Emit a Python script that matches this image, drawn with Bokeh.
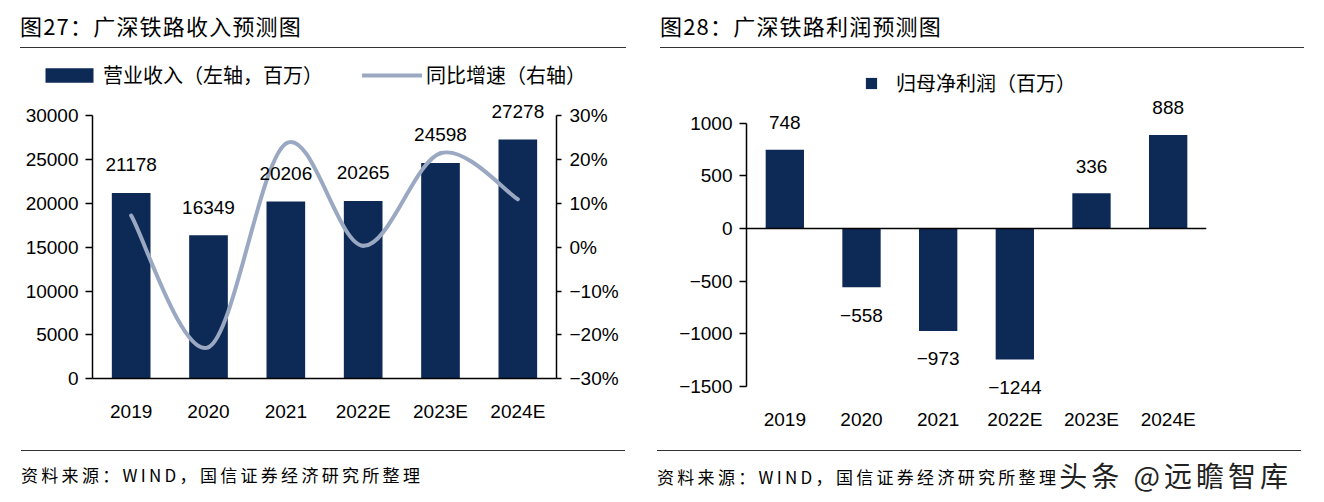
from bokeh.plotting import figure
from bokeh.models import (FactorRange, Range1d, LinearAxis, FixedTicker, Legend,
                          LegendItem, Span, Div, ColumnDataSource)
from bokeh.layouts import row, column
from bokeh.embed import file_html
from bokeh.resources import INLINE
from bokeh.core.properties import value

# ---------------- data ----------------
years = ["2019", "2020", "2021", "2022E", "2023E", "2024E"]
revenue = [21178, 16349, 20206, 20265, 24598, 27278]
growth = [7.2, -22.8, 23.6, 0.3, 21.4, 10.9]
profit = [748, -558, -973, -1244, 336, 888]
rev_ticks = [0, 5000, 10000, 15000, 20000, 25000, 30000]
pct_ticks = [-30, -20, -10, 0, 10, 20, 30]
profit_ticks = [-1500, -1000, -500, 0, 500, 1000]

title1 = "图27：广深铁路收入预测图"
title2 = "图28：广深铁路利润预测图"
legend_rev = "营业收入（左轴，百万）"
legend_growth = "同比增速（右轴）"
legend_profit = "归母净利润（百万）"
source_text = "资料来源：WIND，国信证券经济研究所整理"
watermark = "头条 @远瞻智库"

NAVY = "#0d2a57"
LINE = "#9aa8c2"
NUM_FONT = "Liberation Sans"
CJK = "Noto Sans CJK SC"


def minus(s):
    return s.replace("-", "\u2212")


def style_axis(ax, tick_out=7, standoff=7):
    ax.axis_line_color = "black"
    ax.axis_line_width = 1.5
    ax.major_tick_line_color = "black"
    ax.major_tick_line_width = 1.5
    ax.major_tick_out = tick_out
    ax.major_tick_in = 0
    ax.minor_tick_line_color = None
    ax.major_label_text_font = NUM_FONT
    ax.major_label_text_font_size = "19px"
    ax.major_label_text_color = "black"
    ax.major_label_standoff = standoff


def style_xaxis(ax, show_line=True, standoff=16):
    ax.axis_line_color = "black" if show_line else None
    ax.axis_line_width = 1.5
    ax.major_tick_line_color = None
    ax.minor_tick_line_color = None
    ax.major_label_text_font = NUM_FONT
    ax.major_label_text_font_size = "19px"
    ax.major_label_text_color = "black"
    ax.major_label_standoff = standoff


n = len(years)
xs = [i + 0.5 for i in range(n)]          # category centres

# ---------------- chart 1: revenue + growth ----------------
# The plot area reaches beyond the axes (which are pinned with fixed_location
# and bounded to their ticks) so that the legend, value labels and tick
# labels all lie inside it.
cat_px = 464.0 / n
x_start = -77.0 / cat_px
x_end = n + 69.0 / cat_px
k_rev = (rev_ticks[-1] - rev_ticks[0]) / 263.3
k_pct = (pct_ticks[-1] - pct_ticks[0]) / 263.3
below_px, above_px = 41.7, 60.0
rev_start = rev_ticks[0] - below_px * k_rev
rev_end = rev_ticks[-1] + above_px * k_rev
pct_start = pct_ticks[0] - below_px * k_pct
pct_end = pct_ticks[-1] + above_px * k_pct

p1 = figure(width=648, height=397, x_range=Range1d(x_start, x_end),
            y_range=Range1d(rev_start, rev_end),
            output_backend="svg", toolbar_location=None,
            min_border_left=15, min_border_right=23,
            min_border_top=6, min_border_bottom=26)
p1.extra_y_ranges = {"pct": Range1d(pct_start, pct_end)}
p1.outline_line_color = None
p1.grid.visible = False
p1.background_fill_color = "white"

bars1 = p1.vbar(x=xs, top=revenue, width=0.5, fill_color=NAVY, line_color=None)

# smoothed growth line (Excel-style smoothing through the data points)
seg = dict(x0=[], y0=[], x1=[], y1=[], cx0=[], cy0=[], cx1=[], cy1=[])
for i in range(n - 1):
    a = i - 1 if i > 0 else i
    b = i + 2 if i + 2 < n else i + 1
    seg["x0"].append(xs[i]); seg["y0"].append(growth[i])
    seg["x1"].append(xs[i + 1]); seg["y1"].append(growth[i + 1])
    seg["cx0"].append(xs[i] + (xs[i + 1] - xs[a]) / 6)
    seg["cy0"].append(growth[i] + (growth[i + 1] - growth[a]) / 6)
    seg["cx1"].append(xs[i + 1] - (xs[b] - xs[i]) / 6)
    seg["cy1"].append(growth[i + 1] - (growth[b] - growth[i]) / 6)
curve = p1.bezier(x0="x0", y0="y0", x1="x1", y1="y1", cx0="cx0", cy0="cy0",
                  cx1="cx1", cy1="cy1", source=ColumnDataSource(seg),
                  line_color=LINE, line_width=4, line_cap="round",
                  y_range_name="pct")

lab1 = ColumnDataSource(dict(x=xs, y=revenue, t=[str(v) for v in revenue]))
p1.text(x="x", y="y", text="t", source=lab1, text_align="center",
        text_baseline="middle", y_offset=-28, text_font=value(NUM_FONT),
        text_font_size="19px", text_color="black")

xa1 = p1.xaxis[0]
xa1.ticker = FixedTicker(ticks=xs)
xa1.major_label_overrides = {x: y for x, y in zip(xs, years)}
xa1.bounds = (0, n)
xa1.fixed_location = rev_ticks[0]
style_xaxis(xa1)

yl = p1.yaxis[0]
yl.ticker = FixedTicker(ticks=rev_ticks)
yl.bounds = (rev_ticks[0], rev_ticks[-1])
yl.fixed_location = 0
style_axis(yl, tick_out=7, standoff=7)

yr = LinearAxis(y_range_name="pct", ticker=FixedTicker(ticks=pct_ticks),
                bounds=(pct_ticks[0], pct_ticks[-1]), fixed_location=n,
                major_label_overrides={v: minus(f"{v}%") for v in pct_ticks})
style_axis(yr, tick_out=5, standoff=8)
p1.add_layout(yr, "right")

leg1 = Legend(items=[LegendItem(label=legend_rev, renderers=[bars1]),
                     LegendItem(label=legend_growth, renderers=[curve])],
              orientation="horizontal", location=(24, 331),
              glyph_width=60, glyph_height=18, label_standoff=4, spacing=39,
              padding=0, margin=0, border_line_color=None,
              background_fill_alpha=0, label_text_font=CJK,
              label_text_font_size="20px", label_text_color="black")
p1.add_layout(leg1, "center")

# ---------------- chart 2: profit ----------------
k2 = (profit_ticks[-1] - profit_ticks[0]) / 263.3     # value units per pixel
profit_start = profit_ticks[0] - 14.0 * k2
profit_end = profit_ticks[-1] + 62.7 * k2

p2 = figure(width=668, height=397, x_range=FactorRange(*years),
            y_range=Range1d(profit_start, profit_end),
            output_backend="svg", toolbar_location=None,
            min_border_left=98, min_border_right=110,
            min_border_top=11, min_border_bottom=46)
p2.outline_line_color = None
p2.grid.visible = False

bars2 = p2.vbar(x=years, top=profit, bottom=0, width=0.5, fill_color=NAVY,
                line_color=None)
p2.add_layout(Span(location=0, dimension="width", line_color="black",
                   line_width=1.5))

lab2 = ColumnDataSource(dict(x=years, y=profit,
                             t=[minus(str(v)) for v in profit],
                             off=[-27 if v >= 0 else 28 for v in profit]))
p2.text(x="x", y="y", text="t", source=lab2, text_align="center",
        text_baseline="middle", y_offset="off", text_font=value(NUM_FONT),
        text_font_size="19px", text_color="black")

style_xaxis(p2.xaxis[0], show_line=False, standoff=2)
y2 = p2.yaxis[0]
y2.ticker = FixedTicker(ticks=profit_ticks)
y2.bounds = (profit_ticks[0], profit_ticks[-1])
y2.major_label_overrides = {v: minus(str(v)) for v in profit_ticks}
style_axis(y2, tick_out=7, standoff=7)

leg2 = Legend(items=[LegendItem(label=legend_profit, renderers=[bars2])],
              orientation="horizontal", location=(118, 303),
              glyph_width=14, glyph_height=14, label_standoff=18,
              padding=0, margin=0, border_line_color=None,
              background_fill_alpha=0, label_text_font=CJK,
              label_text_font_size="20px", label_text_color="black")
p2.add_layout(leg2, "center")

# ---------------- titles / sources ----------------
TITLE_CSS = ("font-family:'Noto Sans CJK SC';font-size:22px;letter-spacing:1.2px;"
             "color:#000;line-height:32px;padding-top:9px;padding-bottom:6px;"
             "border-bottom:1.5px solid #333;white-space:nowrap;")
SRC_CSS = ("font-family:'Noto Sans CJK SC';font-size:17px;letter-spacing:3.3px;"
           "color:#000;line-height:24px;margin-top:4px;padding-top:12px;"
           "border-top:1.5px solid #333;white-space:nowrap;")
WM_CSS = ("font-family:'Noto Sans CJK SC';font-size:28px;letter-spacing:4px;"
          "color:#222;margin-left:0px;vertical-align:-3px;")

t1 = Div(text=f"<div style=\"{TITLE_CSS}margin-left:20px;width:606px;\">{title1}</div>",
         width=648, height=49, margin=0)
t2 = Div(text=f"<div style=\"{TITLE_CSS}margin-left:12px;width:644px;\">{title2}</div>",
         width=668, height=49, margin=0)
s1 = Div(text=f"<div style=\"{SRC_CSS}margin-left:21px;width:604px;\">{source_text}</div>",
         width=648, height=50, margin=0)
s2 = Div(text=f"<div style=\"{SRC_CSS}margin-left:9px;width:644px;\">{source_text}"
              f"<span style=\"{WM_CSS}\">{watermark}</span></div>",
         width=668, height=50, margin=0)

layout = row(column(t1, p1, s1), column(t2, p2, s2))

open("out.html", "w").write(file_html(layout, INLINE))
